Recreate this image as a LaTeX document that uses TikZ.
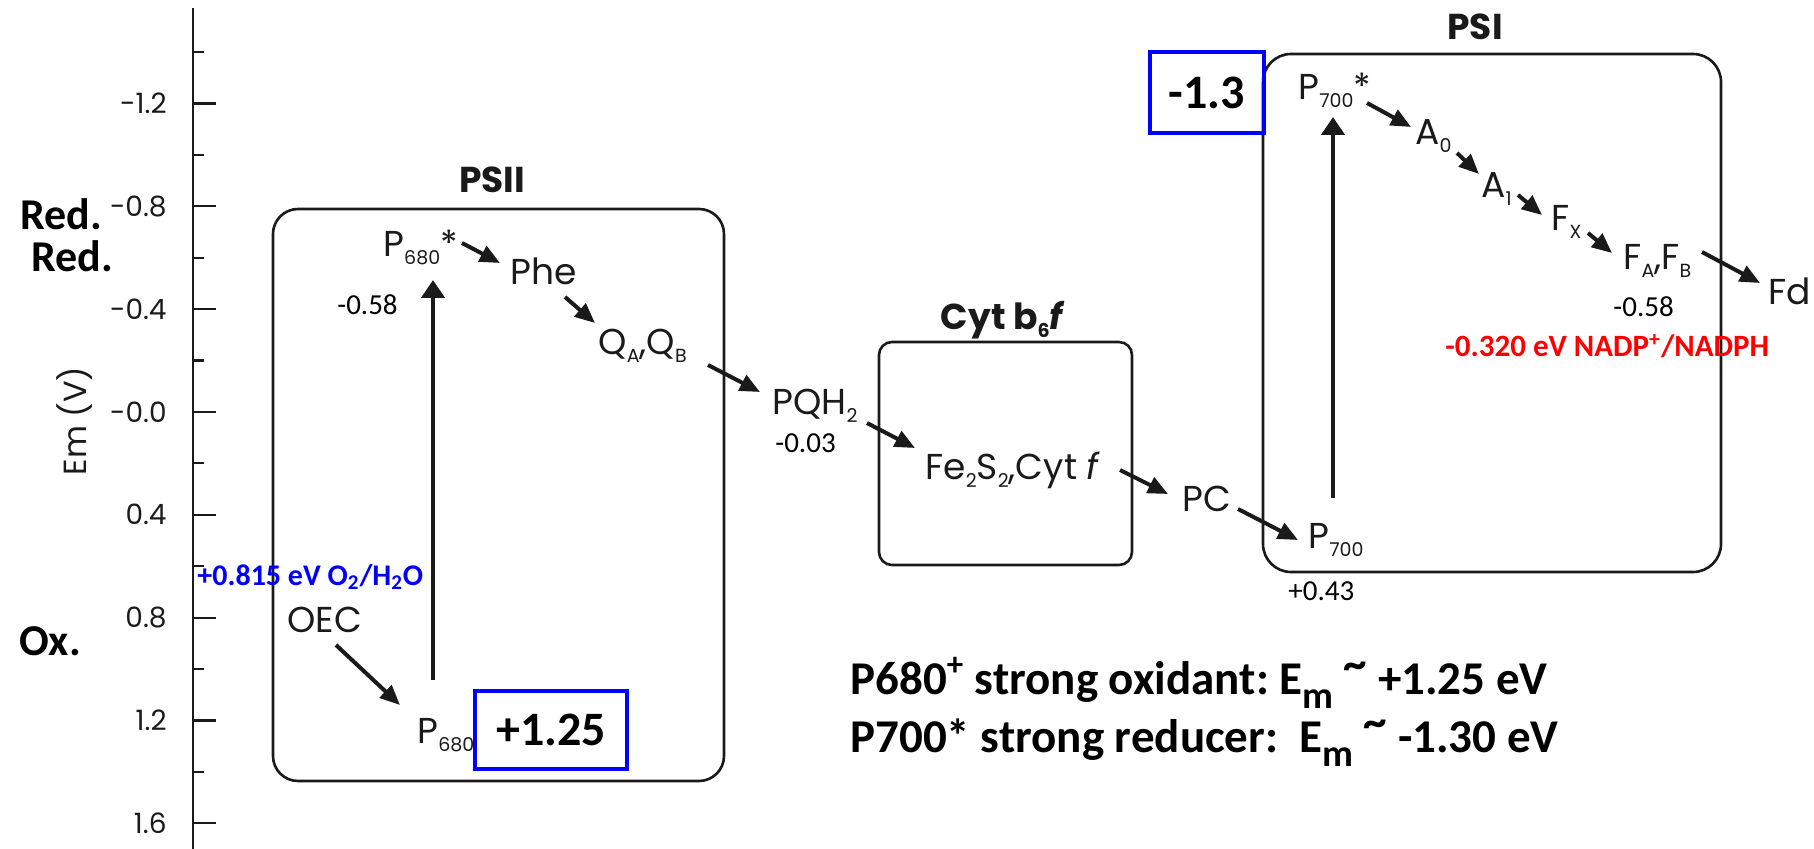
\documentclass[tikz,border=0pt]{standalone}
\usepackage{fontspec}
\setmainfont{Carlito}
\newfontfamily\gothic{Poppins}
\usetikzlibrary{arrows.meta}
\frenchspacing
\definecolor{ink}{HTML}{1A1A1A}
\definecolor{pureblue}{RGB}{0,0,255}
\definecolor{purered}{RGB}{255,0,0}
\newcommand{\lo}[1]{\raisebox{-4pt}{\fontsize{9.5}{9.5}\selectfont #1}}
\newcommand{\emsub}{E\raisebox{-0.3em}{\fontsize{19}{19}\selectfont m}}
\newcommand{\hitilde}{\raisebox{0.3em}{\textasciitilde}}
\tikzset{
  cmp/.style={anchor=base west, inner sep=0pt, text=ink, font=\gothic\fontsize{18}{20}\selectfont},
  ttl/.style={anchor=base, inner sep=0pt, text=ink, font=\gothic\bfseries\fontsize{18}{20}\selectfont},
  ticklbl/.style={anchor=east, inner sep=0pt, text=ink, font=\gothic\fontsize{14}{16}\selectfont},
  num/.style={anchor=base west, inner sep=0pt, font=\fontsize{14.5}{16}\selectfont},
  side/.style={anchor=base west, inner sep=0pt, font=\bfseries\fontsize{22}{24}\selectfont},
  note/.style={anchor=base west, inner sep=0pt, font=\bfseries\fontsize{23.5}{28}\selectfont},
  cplx/.style={rectangle, rounded corners=12.5pt, draw=ink, line width=1.3pt},
  hilite/.style={rectangle, draw=pureblue, line width=2.3pt, font=\bfseries\fontsize{24}{26}\selectfont},
  axisline/.style={draw=ink, line width=1.1pt},
  hop/.style={-{Triangle[length=10pt,width=8.5pt]}, draw=ink, line width=2pt},
  pump/.style={-{Triangle[length=9pt,width=11.5pt]}, draw=ink, line width=2.3pt}
}
\begin{document}
\begin{tikzpicture}[x=0.5pt, y=-0.5pt]
\useasboundingbox (0,0) rectangle (1814,849);

% --- potential axis
\draw[axisline] (193,8) -- (193,849);
\foreach \v/\t [count=\i] in {-1.2/-1.2, -0.8/-0.8, -0.4/-0.4, 0/-0.0, 0.4/0.4, 0.8/0.8, 1.2/1.2, 1.6/1.6} {
  \draw[axisline] (193,{412+257*\v}) -- ++(23,0);
  \node[ticklbl] (tick\i) at (167,{412+257*\v}) {\t};
}
\foreach \v in {-1.4, -1.0, -0.6, -0.2, 0.2, 0.6, 1.0, 1.4}
  \draw[axisline] (193,{412+257*\v}) -- ++(11,0);
\node[rotate=90, inner sep=0pt, text=ink, font=\gothic\fontsize{16}{18}\selectfont] (emlbl) at (75,421) {Em (V)};
\node[side] (redA) at (20,230) {Red.};
\node[side] (redB) at (31,272) {Red.};
\node[side] (oxlbl) at (19,655) {Ox.};

% --- complexes
\node[cplx, minimum width=225.5pt, minimum height=286pt] (psii) at (498.5,495) {};
\node[cplx, rounded corners=6.5pt, minimum width=126.5pt, minimum height=111.5pt] (cytbf) at (1005.5,453.5) {};
\node[cplx, rounded corners=14pt, minimum width=229pt, minimum height=259pt] (psi) at (1492,313) {};
\node[ttl] (psiittl) at (492,193) {PSII};
\node[ttl] (cytttl) at (1003,330) {Cyt b\lo{6}\textit{f}};
\node[ttl] (psittl) at (1475,40) {PSI};

% --- carriers
\node[cmp] (p680s) at (383,257) {P\lo{680}*};
\node[cmp] (phe) at (510,285) {Phe};
\node[cmp] (qab) at (598,355) {Q\lo{A},Q\lo{B}};
\node[cmp] (pqh) at (772,415) {PQH\lo{2}};
\node[cmp] (fecyt) at (925,480) {Fe\lo{2}S\lo{2},Cyt \textit{f}};
\node[cmp] (pc) at (1182,512) {PC};
\node[cmp] (p700) at (1308,549) {P\lo{700}};
\node[cmp] (p700s) at (1298,100) {P\lo{700}*};
\node[cmp] (a0) at (1415,145) {A\lo{0}};
\node[cmp] (a1) at (1481,198) {A\lo{1}};
\node[cmp] (fx) at (1551,231) {F\lo{X}};
\node[cmp] (fab) at (1623,270) {F\lo{A},F\lo{B}};
\node[cmp] (fd) at (1768,305) {Fd};
\node[cmp] (oec) at (287,632) {OEC};
\node[cmp] (p680) at (417,743) {P\lo{680}};

% --- potentials
\node[num] (e680) at (337,315) {-0.58};
\node[num] (epq) at (775,453) {-0.03};
\node[num] (e700) at (1288,600) {+0.43};
\node[num] (efab) at (1613,317) {-0.58};
\node[hilite, minimum width=76pt, minimum height=39pt] (hiA) at (551,730) {+1.25};
\node[hilite, minimum width=57pt, minimum height=40.5pt] (hiB) at (1207,92.5) {-1.3};
\node[num, text=pureblue, font=\bfseries\fontsize{15}{17}\selectfont] (water) at (197,585) {+0.815 eV O\textsubscript{2}/H\textsubscript{2}O};
\node[num, text=purered, font=\bfseries\fontsize{15.5}{17}\selectfont] (nadp) at (1445,357) {-0.320 eV NADP\textsuperscript{+}/NADPH};

% --- electron path
\draw[hop] ([shift={(49,13)}]oec.base west) -- ([shift={(-17,-38)}]p680.base west);
\draw[pump] ([shift={(16,-63)}]p680.base west) -- ([shift={(50,23)}]p680s.base west);
\draw[hop] ([shift={(79,-14)}]p680s.base west) -- ([shift={(-10,-22)}]phe.base west);
\draw[hop] ([shift={(55,12)}]phe.base west) -- ([shift={(-3,-32)}]qab.base west);
\draw[hop] ([shift={(110,10)}]qab.base west) -- ([shift={(-12,-23)}]pqh.base west);
\draw[hop] ([shift={(95,8)}]pqh.base west) -- ([shift={(-10,-32)}]fecyt.base west);
\draw[hop] ([shift={(195,-10)}]fecyt.base west) -- ([shift={(-14,-18)}]pc.base west);
\draw[hop] ([shift={(56,-3)}]pc.base west) -- ([shift={(-10,-9)}]p700.base west);
\draw[pump] ([shift={(25,-51)}]p700.base west) -- ([shift={(35,17)}]p700s.base west);
\draw[hop] ([shift={(69,3)}]p700s.base west) -- ([shift={(-4,-18)}]a0.base west);
\draw[hop] ([shift={(42,8)}]a0.base west) -- ([shift={(-2,-24)}]a1.base west);
\draw[hop] ([shift={(37,-3)}]a1.base west) -- ([shift={(-9,-16)}]fx.base west);
\draw[hop] ([shift={(37,2)}]fx.base west) -- ([shift={(-11,-17)}]fab.base west);
\draw[hop] ([shift={(79,-18)}]fab.base west) -- ([shift={(-8,-22)}]fd.base west);

% --- summary
\node[note] (noteA) at (850,694) {P680\textsuperscript{+} strong oxidant: \emsub{} \hitilde{} +1.25 eV};
\node[note] (noteB) at (850,752) {P700* strong reducer:\ \ \emsub{} \hitilde{} -1.30 eV};
\end{tikzpicture}
\end{document}
